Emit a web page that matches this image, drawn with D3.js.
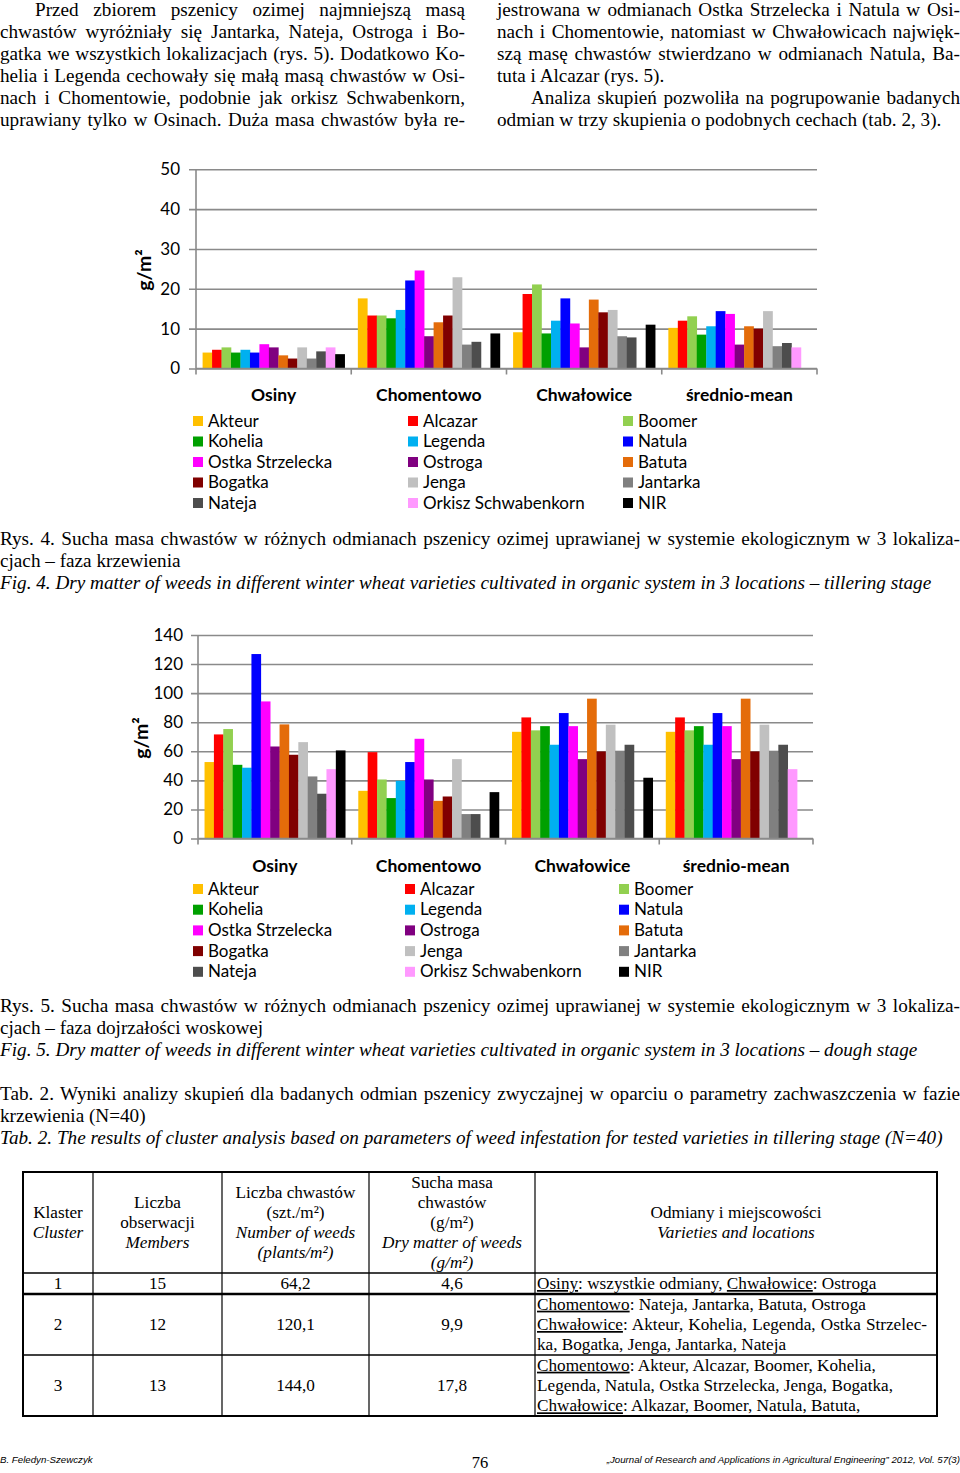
<!DOCTYPE html>
<html>
<head>
<meta charset="utf-8">
<script src="https://cdn.jsdelivr.net/npm/d3@7"></script>
<style>
  body { margin: 0; background: #fff; }
  svg { display: block; }
  .serif { font-family: "Liberation Serif", "Times New Roman", serif; fill: #000; }
  .chart text { font-family: Lato, "Open Sans", sans-serif; fill: #000; }
</style>
</head>
<body>
<div id="page"></div>
<script>
// ---- chart data ----
var locations = ["Osiny", "Chomentowo", "Chwałowice", "średnio-mean"];
var varieties = ["Akteur", "Alcazar", "Boomer", "Kohelia", "Legenda", "Natula", "Ostka Strzelecka",
  "Ostroga", "Batuta", "Bogatka", "Jenga", "Jantarka", "Nateja", "Orkisz Schwabenkorn", "NIR"];
var varietyColors = ["#ffc000", "#ff0000", "#92d050", "#00a000", "#00b0f0", "#0000ff", "#ff00ff",
  "#800080", "#e46c0a", "#800000", "#c0c0c0", "#808080", "#4d4d4d", "#ff99ff", "#000000"];

// Rys. 4 - tillering stage (g/m2)
var tillerOsiny      = [4.0, 4.7, 5.3, 4.0, 4.7, 4.0, 6.1, 5.3, 3.3, 2.5, 5.3, 2.5, 4.3, 5.3, 3.6];
var tillerChomentowo = [17.6, 13.3, 13.3, 12.6, 14.7, 22.1, 24.6, 8.1, 11.6, 13.3, 22.9, 6.0, 6.7, null, 8.8];
var tillerChwalowice = [9.1, 18.7, 21.1, 8.8, 12.0, 17.6, 11.3, 5.3, 17.3, 14.1, 14.7, 8.1, 7.8, null, 11.0];
var tillerMean       = [10.2, 12.0, 13.1, 8.5, 10.6, 14.4, 13.7, 6.0, 10.6, 10.0, 14.4, 5.6, 6.4, 5.3, null];
var tillerTicks = [0, 10, 20, 30, 40, 50];

// Rys. 5 - dough stage (g/m2)
var doughOsiny      = [52.6, 71.6, 75.3, 50.7, 48.7, 126.9, 94.3, 63.3, 78.5, 57.6, 66.3, 42.7, 30.8, 47.7, 60.6];
var doughChomentowo = [32.8, 59.4, 40.6, 27.8, 39.7, 52.6, 68.6, 40.6, 25.9, 28.9, 54.6, 16.8, 16.8, null, 31.9];
var doughChwalowice = [73.4, 83.3, 74.4, 77.3, 64.5, 86.3, 77.3, 54.6, 96.2, 59.9, 78.3, 60.4, 64.5, null, 41.8];
var doughMean       = [73.4, 83.3, 74.4, 77.3, 64.5, 86.3, 77.3, 54.6, 96.2, 59.9, 78.3, 60.4, 64.5, 47.7, null];
var doughTicks = [0, 20, 40, 60, 80, 100, 120, 140];

// ---- text ----
var leftColumn = [
  "Przed zbiorem pszenicy ozimej najmniejszą masą",
  "chwastów wyróżniały się Jantarka, Nateja, Ostroga i Bo-",
  "gatka we wszystkich lokalizacjach (rys. 5). Dodatkowo Ko-",
  "helia i Legenda cechowały się małą masą chwastów w Osi-",
  "nach i Chomentowie, podobnie jak orkisz Schwabenkorn,",
  "uprawiany tylko w Osinach. Duża masa chwastów była re-"
];
var rightColumn = [
  "jestrowana w odmianach Ostka Strzelecka i Natula w Osi-",
  "nach i Chomentowie, natomiast w Chwałowicach najwięk-",
  "szą masę chwastów stwierdzano w odmianach Natula, Ba-",
  "tuta i Alcazar (rys. 5).",
  "Analiza skupień pozwoliła na pogrupowanie badanych",
  "odmian w trzy skupienia o podobnych cechach (tab. 2, 3)."
];
var caption4 = ["Rys. 4. Sucha masa chwastów w różnych odmianach pszenicy ozimej uprawianej w systemie ekologicznym w 3 lokaliza-",
  "cjach – faza krzewienia"];
var caption4en = "Fig. 4. Dry matter of weeds in different winter wheat varieties cultivated in organic system in 3 locations – tillering stage";
var caption5 = ["Rys. 5. Sucha masa chwastów w różnych odmianach pszenicy ozimej uprawianej w systemie ekologicznym w 3 lokaliza-",
  "cjach – faza dojrzałości woskowej"];
var caption5en = "Fig. 5. Dry matter of weeds in different winter wheat varieties cultivated in organic system in 3 locations – dough stage";
var tabCaption = ["Tab. 2. Wyniki analizy skupień dla badanych odmian pszenicy zwyczajnej w oparciu o parametry zachwaszczenia w fazie",
  "krzewienia (N=40)"];
var tabCaptionEn = "Tab. 2. The results of cluster analysis based on parameters of weed infestation for tested varieties in tillering stage (N=40)";

// ---- table ----
var headerPl = [["Klaster"], ["Liczba", "obserwacji"], ["Liczba chwastów", "(szt./m²)"],
  ["Sucha masa", "chwastów", "(g/m²)"], ["Odmiany i miejscowości"]];
var headerEn = [["Cluster"], ["Members"], ["Number of weeds", "(plants/m²)"],
  ["Dry matter of weeds", "(g/m²)"], ["Varieties and locations"]];
var clusterIds = ["1", "2", "3"];
var clusterMembers = ["15", "12", "13"];
var clusterWeeds = ["64,2", "120,1", "144,0"];
var clusterDryMatter = ["4,6", "9,9", "17,8"];
// each line: [underlined place, rest]
var clusterPlaces = [
  [["Osiny", ": wszystkie odmiany, "], ["Chwałowice", ": Ostroga"]],
  [["Chomentowo", ": Nateja, Jantarka, Batuta, Ostroga"]],
  [["Chwałowice", ": Akteur, Kohelia, Legenda, Ostka Strzelec-"]],
  [["", "ka, Bogatka, Jenga, Jantarka, Nateja"]],
  [["Chomentowo", ": Akteur, Alcazar, Boomer, Kohelia,"]],
  [["", "Legenda, Natula, Ostka Strzelecka, Jenga, Bogatka,"]],
  [["Chwałowice", ": Alkazar, Boomer, Natula, Batuta,"]]
];
var clusterLineCount = [1, 3, 3];

var svg = d3.select("#page").append("svg")
  .attr("width", 960).attr("height", 1473);

function justify(sel, width) {
  var w = sel.node().getComputedTextLength();
  var spaces = (sel.text().match(/ /g) || []).length;
  if (spaces) sel.style("word-spacing", ((width - w) / spaces) + "px");
}

function textLine(str, x, y, size, opts) {
  opts = opts || {};
  var t = svg.append("text").attr("class", "serif")
    .attr("x", x).attr("y", y).style("font-size", size + "px")
    .text(str);
  if (opts.italic) t.style("font-style", "italic");
  if (opts.width) justify(t, opts.width);
  return t;
}

var bodySize = 19.2;

// body text columns
leftColumn.forEach(function(s, i) {
  var x = i === 0 ? 35 : 0;
  textLine(s, x, 15.5 + 22 * i, bodySize, { width: 465 - x });
});
rightColumn.forEach(function(s, i) {
  var x = i === 4 ? 531 : 497;
  var just = i !== 3 && i !== 5;
  textLine(s, x, 15.5 + 22 * i, bodySize, just ? { width: 960 - x } : {});
});

// captions
textLine(caption4[0], 0, 545, bodySize, { width: 960 });
textLine(caption4[1], 0, 567, bodySize);
textLine(caption4en, 0, 589, bodySize, { italic: true });
textLine(caption5[0], 0, 1012, bodySize, { width: 960 });
textLine(caption5[1], 0, 1034, bodySize);
textLine(caption5en, 0, 1056, bodySize, { italic: true });
textLine(tabCaption[0], 0, 1100, bodySize, { width: 960 });
textLine(tabCaption[1], 0, 1122, bodySize);
textLine(tabCaptionEn, 0, 1144, bodySize, { italic: true });

// ---- charts ----
function drawChart(cfg) {
  var g = svg.append("g").attr("class", "chart");
  var x0 = d3.scaleBand().domain(locations).range([cfg.left, cfg.right])
    .paddingInner(0.085).paddingOuter(0.0425);
  var x1 = d3.scaleBand().domain(varieties).range([0, x0.bandwidth()]);
  var y = d3.scaleLinear().domain([0, cfg.max]).range([cfg.bottom, cfg.top]);

  // gridlines and value labels
  var ya = g.append("g").attr("transform", "translate(" + (cfg.left - 7) + ",0)")
    .call(d3.axisLeft(y).tickValues(cfg.ticks).tickFormat(d3.format("d"))
      .tickSizeInner(-(cfg.right - cfg.left + 7)).tickSizeOuter(0).tickPadding(cfg.pad));
  ya.select(".domain").remove();
  ya.selectAll(".tick line").attr("stroke", "#8a8a8a").attr("stroke-width", 1.6);
  ya.selectAll(".tick text").style("font-size", "17px").style("font-family", "Lato, sans-serif");

  // vertical axis line
  g.append("line").attr("x1", cfg.left).attr("x2", cfg.left)
    .attr("y1", cfg.top).attr("y2", cfg.bottom)
    .attr("stroke", "#8a8a8a").attr("stroke-width", 1.6);

  // bars
  var series = cfg.series;
  var grp = g.selectAll(".loc").data(locations).enter().append("g")
    .attr("transform", function(d) { return "translate(" + x0(d) + ",0)"; });
  grp.selectAll("rect")
    .data(function(d, i) {
      return series[i].map(function(v, j) { return { name: varieties[j], value: v, color: varietyColors[j] }; })
        .filter(function(e) { return e.value != null; });
    })
    .enter().append("rect")
    .attr("x", function(d) { return x1(d.name); })
    .attr("width", x1.bandwidth() + 0.3)
    .attr("y", function(d) { return y(d.value); })
    .attr("height", function(d) { return y(0) - y(d.value); })
    .attr("fill", function(d) { return d.color; });

  // category axis
  g.append("line").attr("x1", cfg.left).attr("x2", cfg.right)
    .attr("y1", y(0)).attr("y2", y(0))
    .attr("stroke", "#8a8a8a").attr("stroke-width", 1.6);
  g.selectAll(".ctick").data(d3.range(locations.length + 1)).enter().append("line")
    .attr("x1", function(i) { return cfg.left + i * x0.step(); })
    .attr("x2", function(i) { return cfg.left + i * x0.step(); })
    .attr("y1", y(0)).attr("y2", y(0) + 6)
    .attr("stroke", "#8a8a8a").attr("stroke-width", 1.6);
  g.selectAll(".clabel").data(locations).enter().append("text")
    .attr("x", function(d) { return x0(d) + x0.bandwidth() / 2; })
    .attr("y", cfg.catY)
    .attr("text-anchor", "middle")
    .style("font-size", "17.5px").style("font-weight", "bold")
    .text(function(d) { return d; });

  // y title
  g.append("text")
    .attr("transform", "translate(" + cfg.titleX + "," + cfg.titleY + ") rotate(-90)")
    .attr("text-anchor", "middle")
    .style("font-size", "19.5px").style("font-weight", "bold")
    .text("g/m²");

  // legend
  var leg = g.selectAll(".leg").data(varieties).enter().append("g")
    .attr("transform", function(d, i) {
      return "translate(" + cfg.legX[i % 3] + "," + (cfg.legY + Math.floor(i / 3) * cfg.legStep) + ")";
    });
  leg.append("rect").attr("x", 0).attr("y", -5).attr("width", 10).attr("height", 10)
    .attr("fill", function(d, i) { return varietyColors[i]; });
  leg.append("text").attr("x", 15).attr("y", 5.5)
    .style("font-size", "17px")
    .text(function(d) { return d; });
}

drawChart({
  left: 196, right: 817, top: 169.3, bottom: 368.5, max: 50, ticks: tillerTicks, pad: 9,
  series: [tillerOsiny, tillerChomentowo, tillerChwalowice, tillerMean],
  catY: 401, titleX: 151, titleY: 270,
  legX: [193, 408, 623], legY: 421, legStep: 20.5
});
drawChart({
  left: 198, right: 813, top: 635, bottom: 838.5, max: 140, ticks: doughTicks, pad: 8,
  series: [doughOsiny, doughChomentowo, doughChwalowice, doughMean],
  catY: 872, titleX: 148, titleY: 738,
  legX: [193, 405, 619], legY: 889, legStep: 20.7
});

// ---- table ----
var colX = [23, 93, 222, 369, 535, 937];
var rowY = [1172, 1273, 1294, 1355, 1416];
var tbl = svg.append("g");
var tsize = 17.2, lh = 19.8;

headerPl.forEach(function(pl, c) {
  var lines = pl.map(function(s) { return { s: s, it: false }; })
    .concat(headerEn[c].map(function(s) { return { s: s, it: true }; }));
  var cx = (colX[c] + colX[c + 1]) / 2;
  var mid = (rowY[0] + rowY[1]) / 2;
  lines.forEach(function(l, i) {
    textLine(l.s, cx, mid + (i - (lines.length - 1) / 2) * lh + 5.5, tsize, { italic: l.it })
      .attr("text-anchor", "middle");
  });
});

[clusterIds, clusterMembers, clusterWeeds, clusterDryMatter].forEach(function(col, c) {
  var cx = (colX[c] + colX[c + 1]) / 2;
  col.forEach(function(v, r) {
    textLine(v, cx, (rowY[r + 1] + rowY[r + 2]) / 2 + 5.5, tsize).attr("text-anchor", "middle");
  });
});

var lineIdx = 0;
clusterLineCount.forEach(function(n, r) {
  var mid = (rowY[r + 1] + rowY[r + 2]) / 2;
  for (var i = 0; i < n; i++) {
    var segs = clusterPlaces[lineIdx++];
    var t = svg.append("text").attr("class", "serif")
      .attr("x", 537).attr("y", mid + (i - (n - 1) / 2) * 20.3 + 5.5)
      .style("font-size", tsize + "px");
    segs.forEach(function(sg) {
      if (sg[0]) t.append("tspan").style("text-decoration", "underline").text(sg[0]);
      t.append("tspan").text(sg[1]);
    });
    if (r === 1 && i === 1) justify(t, 927 - 537);
  }
});

// table borders
tbl.append("rect").attr("x", colX[0]).attr("y", rowY[0])
  .attr("width", colX[5] - colX[0]).attr("height", rowY[4] - rowY[0])
  .attr("fill", "none").attr("stroke", "#000").attr("stroke-width", 2);
tbl.selectAll(".vl").data(colX.slice(1, 5)).enter().append("line")
  .attr("x1", function(d) { return d; }).attr("x2", function(d) { return d; })
  .attr("y1", rowY[0]).attr("y2", rowY[4])
  .attr("stroke", "#000").attr("stroke-width", 1.2);
tbl.selectAll(".hl").data(rowY.slice(1, 4)).enter().append("line")
  .attr("x1", colX[0]).attr("x2", colX[5])
  .attr("y1", function(d) { return d; }).attr("y2", function(d) { return d; })
  .attr("stroke", "#000").attr("stroke-width", function(d, i) { return i === 1 ? 2.5 : 1.4; });

// ---- footer ----
svg.append("text").attr("x", 0).attr("y", 1463)
  .style("font-family", "Liberation Sans, Arial, sans-serif").style("font-size", "9.7px")
  .style("font-style", "italic").text("B. Feledyn-Szewczyk");
textLine("76", 480, 1468, 16.5).attr("text-anchor", "middle");
svg.append("text").attr("x", 960).attr("y", 1463).attr("text-anchor", "end")
  .style("font-family", "Liberation Sans, Arial, sans-serif").style("font-size", "9.7px")
  .style("font-style", "italic")
  .text("„Journal of Research and Applications in Agricultural Engineering” 2012, Vol. 57(3)");
</script>
</body>
</html>
